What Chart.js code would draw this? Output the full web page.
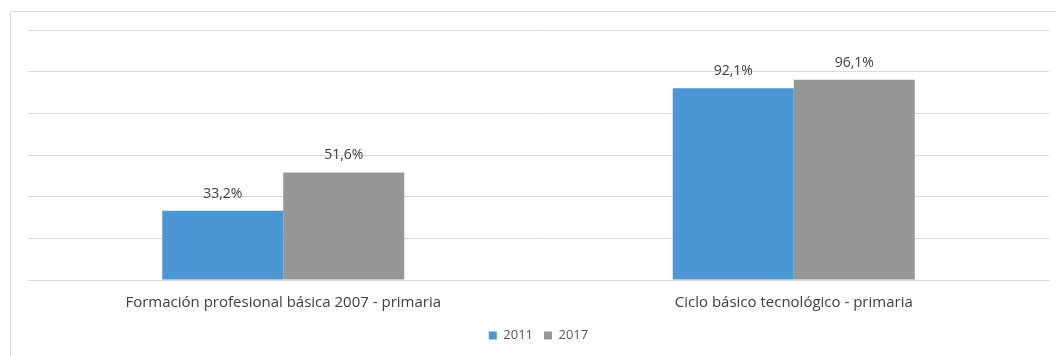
<!DOCTYPE html>
<html lang="es">
<head>
<meta charset="UTF-8">
<title>Cobertura</title>
<script src="https://cdn.jsdelivr.net/npm/chart.js"></script>
<style>
  html, body { margin: 0; padding: 0; background: #fff; }
  .marco { position: relative; width: 1056px; height: 356px; }
</style>
</head>
<body>
<div class="marco">
  <canvas id="grafico" width="1056" height="356"></canvas>
</div>
<script>
  const cursos = ['Formación profesional básica 2007 - primaria', 'Ciclo básico tecnológico - primaria'];
  const anios = ['2011', '2017'];
  const valores2011 = [33.2, 92.1];
  const valores2017 = [51.6, 96.1];
  const colores = ['#4b96d3', '#959797'];

  // recuadro gris claro alrededor del gráfico
  const recuadro = {
    id: 'recuadro',
    beforeDraw(chart) {
      const ctx = chart.ctx;
      ctx.save();
      ctx.strokeStyle = '#d9d9d9';
      ctx.lineWidth = 1;
      ctx.strokeRect(10.5, 11.5, 1060, 360);
      ctx.restore();
    }
  };

  // porcentaje encima de cada barra
  const etiquetas = {
    id: 'etiquetas',
    afterDatasetsDraw(chart) {
      const ctx = chart.ctx;
      ctx.save();
      ctx.font = '14px "Open Sans"';
      ctx.fillStyle = '#404040';
      ctx.textAlign = 'center';
      ctx.textBaseline = 'bottom';
      chart.data.datasets.forEach(function (ds, i) {
        chart.getDatasetMeta(i).data.forEach(function (barra, j) {
          const txt = ds.data[j].toFixed(1).replace('.', ',') + '%';
          ctx.fillText(txt, barra.x, barra.y - 10);
        });
      });
      ctx.restore();
    }
  };

  new Chart(document.getElementById('grafico'), {
    type: 'bar',
    data: {
      labels: cursos,
      datasets: [
        { label: anios[0], data: valores2011, backgroundColor: colores[0] },
        { label: anios[1], data: valores2017, backgroundColor: colores[1] }
      ]
    },
    options: {
      responsive: false,
      animation: false,
      layout: { padding: { left: 28, right: 7, top: 30, bottom: 4 } },
      datasets: { bar: { barPercentage: 1, categoryPercentage: 0.474 } },
      plugins: {
        legend: {
          position: 'bottom',
          labels: {
            boxWidth: 8,
            boxHeight: 8,
            padding: 11,
            color: '#595959',
            font: { family: 'Open Sans', size: 13 }
          }
        },
        tooltip: { enabled: false }
      },
      scales: {
        x: {
          grid: { display: false },
          border: { color: '#d9d9d9' },
          ticks: { color: '#404040', padding: 6, font: { family: 'Open Sans', size: 15 } }
        },
        y: {
          min: 0,
          max: 120,
          ticks: { display: false, stepSize: 20 },
          grid: { color: '#d9d9d9', drawTicks: false },
          border: { display: false }
        }
      }
    },
    plugins: [recuadro, etiquetas]
  });
</script>
</body>
</html>
